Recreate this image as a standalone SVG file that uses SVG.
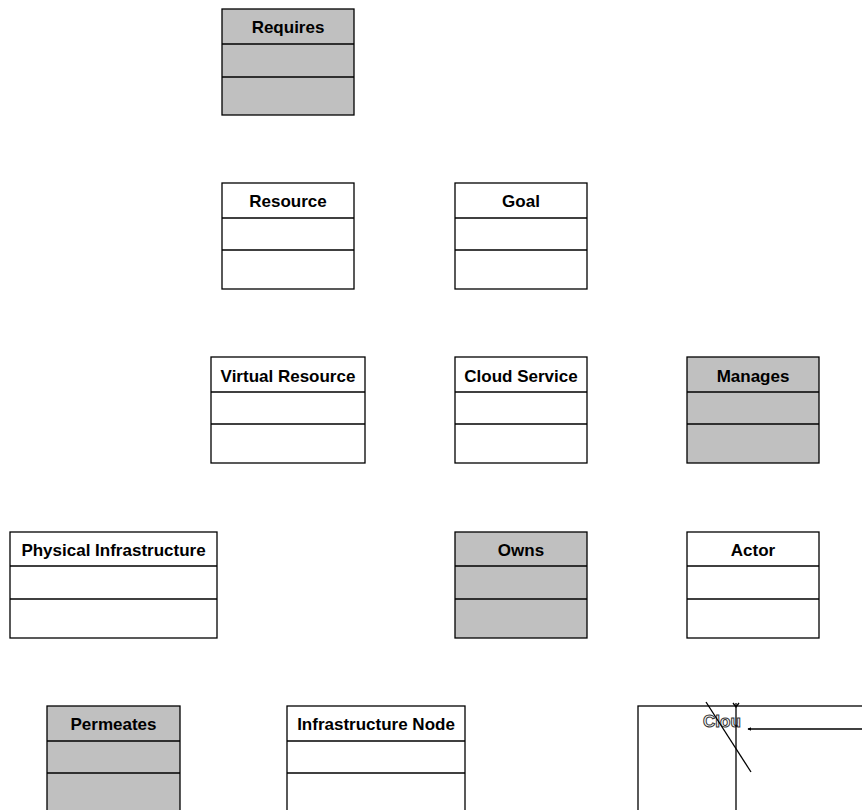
<svg xmlns="http://www.w3.org/2000/svg" width="862" height="810" viewBox="0 0 862 810">
  <style>
    .box { fill: #ffffff; stroke: #000000; stroke-width: 1.3; }
    .assoc .box { fill: #c0c0c0; }
    .sep { stroke: #000000; stroke-width: 1.3; }
    .title { font-family: "Liberation Sans", Arial, sans-serif; font-weight: bold; font-size: 17px; fill: #000000; text-anchor: middle; }
    .ghost { font-family: "Liberation Sans", Arial, sans-serif; font-weight: bold; font-size: 17px; fill: #ffffff; stroke: #333333; stroke-width: 1; }
    .wire { stroke: #000000; stroke-width: 1.3; fill: none; }
  </style>
  <defs>
    <marker id="tip" viewBox="0 0 6 6" refX="1" refY="3" markerWidth="3" markerHeight="3" orient="auto">
      <path d="M6,0 L0,3 L6,6 z" fill="#000000"/>
    </marker>
  </defs>
  <rect width="862" height="810" fill="#ffffff"/>

  <g id="requires" class="assoc">
    <rect class="box" x="222" y="9" width="132" height="106"/>
    <line class="sep" x1="222" y1="44" x2="354" y2="44"/>
    <line class="sep" x1="222" y1="77" x2="354" y2="77"/>
    <text class="title" x="288" y="33">Requires</text>
  </g>

  <g id="resource">
    <rect class="box" x="222" y="183" width="132" height="106"/>
    <line class="sep" x1="222" y1="218" x2="354" y2="218"/>
    <line class="sep" x1="222" y1="250" x2="354" y2="250"/>
    <text class="title" x="288" y="207">Resource</text>
  </g>

  <g id="goal">
    <rect class="box" x="455" y="183" width="132" height="106"/>
    <line class="sep" x1="455" y1="218" x2="587" y2="218"/>
    <line class="sep" x1="455" y1="250" x2="587" y2="250"/>
    <text class="title" x="521" y="207">Goal</text>
  </g>

  <g id="virtual-resource">
    <rect class="box" x="211" y="357" width="154" height="106"/>
    <line class="sep" x1="211" y1="392" x2="365" y2="392"/>
    <line class="sep" x1="211" y1="424" x2="365" y2="424"/>
    <text class="title" x="288" y="382">Virtual Resource</text>
  </g>

  <g id="cloud-service">
    <rect class="box" x="455" y="357" width="132" height="106"/>
    <line class="sep" x1="455" y1="392" x2="587" y2="392"/>
    <line class="sep" x1="455" y1="424" x2="587" y2="424"/>
    <text class="title" x="521" y="382">Cloud Service</text>
  </g>

  <g id="manages" class="assoc">
    <rect class="box" x="687" y="357" width="132" height="106"/>
    <line class="sep" x1="687" y1="392" x2="819" y2="392"/>
    <line class="sep" x1="687" y1="424" x2="819" y2="424"/>
    <text class="title" x="753" y="382">Manages</text>
  </g>

  <g id="physical-infrastructure">
    <rect class="box" x="10" y="532" width="207" height="106"/>
    <line class="sep" x1="10" y1="566" x2="217" y2="566"/>
    <line class="sep" x1="10" y1="599" x2="217" y2="599"/>
    <text class="title" x="113.5" y="556">Physical Infrastructure</text>
  </g>

  <g id="owns" class="assoc">
    <rect class="box" x="455" y="532" width="132" height="106"/>
    <line class="sep" x1="455" y1="566" x2="587" y2="566"/>
    <line class="sep" x1="455" y1="599" x2="587" y2="599"/>
    <text class="title" x="521" y="556">Owns</text>
  </g>

  <g id="actor">
    <rect class="box" x="687" y="532" width="132" height="106"/>
    <line class="sep" x1="687" y1="566" x2="819" y2="566"/>
    <line class="sep" x1="687" y1="599" x2="819" y2="599"/>
    <text class="title" x="753" y="556">Actor</text>
  </g>

  <g id="permeates" class="assoc">
    <rect class="box" x="47" y="706" width="133" height="120"/>
    <line class="sep" x1="47" y1="741" x2="180" y2="741"/>
    <line class="sep" x1="47" y1="773" x2="180" y2="773"/>
    <text class="title" x="113.5" y="730">Permeates</text>
  </g>

  <g id="infrastructure-node">
    <rect class="box" x="287" y="706" width="178" height="120"/>
    <line class="sep" x1="287" y1="741" x2="465" y2="741"/>
    <line class="sep" x1="287" y1="773" x2="465" y2="773"/>
    <text class="title" x="376" y="730">Infrastructure Node</text>
  </g>

  <g id="cloud-partial">
    <rect class="box" x="638" y="706" width="240" height="120"/>
    <text class="ghost" x="703" y="727">Clou</text>
  </g>

  <g id="connectors">
    <line class="wire" x1="736" y1="703" x2="736" y2="812"/>
    <path class="wire" d="M733,703 L736,707 L739,703"/>
    <line class="wire" x1="706" y1="702" x2="751" y2="772"/>
    <line class="wire" x1="748" y1="729" x2="862" y2="729" marker-start="url(#tip)"/>
  </g>
</svg>
